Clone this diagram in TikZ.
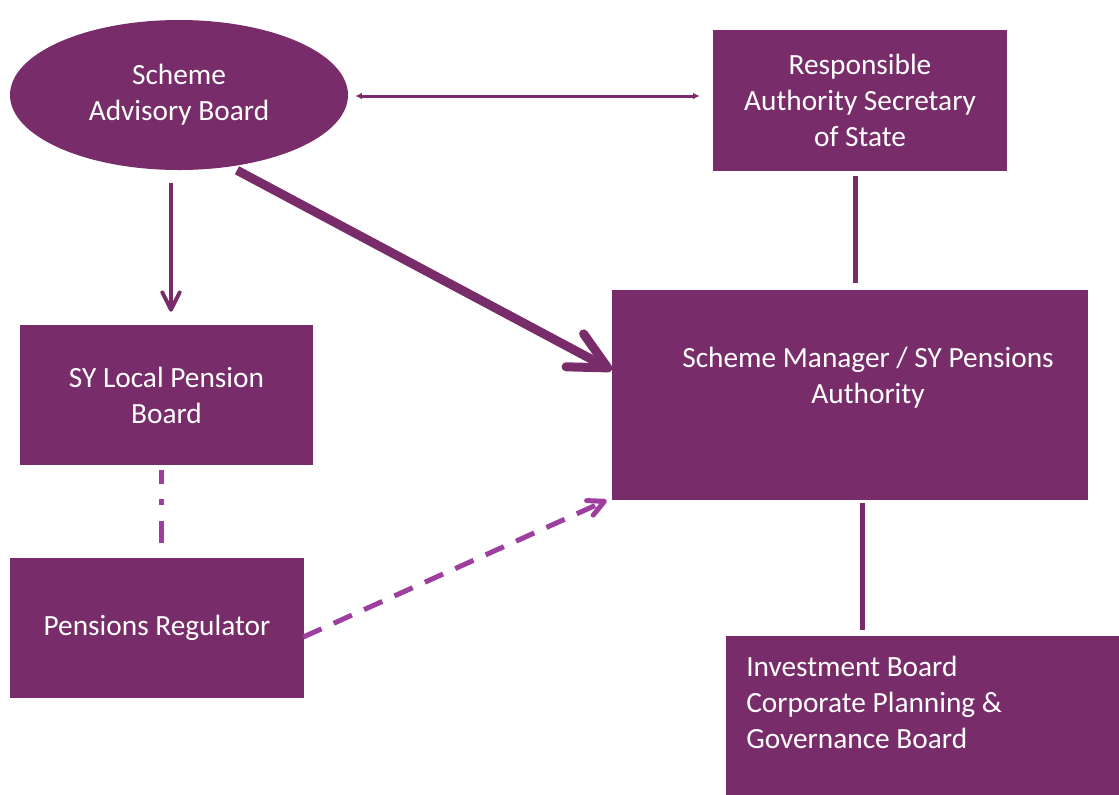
\documentclass[tikz,border=0pt]{standalone}
\usepackage{fontspec}
\setmainfont{Carlito}
\usetikzlibrary{shapes.geometric,arrows.meta,calc}

\definecolor{boardpurple}{RGB}{120,45,106}
\definecolor{linkpurple}{RGB}{158,62,158}

\tikzset{
	board/.style={rectangle, fill=boardpurple, text=white, text centered, align=center,
		inner sep=0pt, font=\fontsize{22}{27}\selectfont},
	boardtext/.style={text=white, inner sep=0pt, font=\fontsize{22}{27}\selectfont},
	link/.style={draw=boardpurple, line width=3.75pt},
	barb/.style={-{Straight Barb[length=#1, width=#1, round]}},
}

\begin{document}
\begin{tikzpicture}[x=0.75pt, y=-0.75pt]
		
		\useasboundingbox (0,0) rectangle (1119,794);
		\clip (0,0) rectangle (1119,794);
		
		%Boards
		\node (advisory) at (179,95) [board, ellipse, minimum width=253.5pt, minimum 
		height=112.5pt]{Scheme\\Advisory Board};
		
		\node (secretary) at (860,100.5) [board, minimum width=220.5pt, minimum 
		height=105.75pt]{Responsible\\Authority Secretary\\of State};
		
		\node (localboard) at (166.5,395) [board, minimum width=219.75pt, minimum 
		height=105pt]{SY Local Pension\\Board};
		
		\node (manager) at (850,395) [board, minimum width=357pt, minimum height=157.5pt]{};
		\node (managertext) at (868,378) [boardtext, align=center]{Scheme Manager / SY Pensions\\Authority};
		
		\node (regulator) at (157,628) [board, minimum width=220.5pt, minimum 
		height=105pt]{Pensions Regulator};
		
		\node (investment) at (726,636) [board, anchor=north west, minimum width=315pt, minimum 
		height=135pt]{};
		\node (investmenttext) at (746,702) [boardtext, anchor=west, align=left]{Investment Board\\Corporate Planning \&\\Governance Board};
		
		%Links
		\draw[link, line width=2.25pt, {Latex[length=5pt, width=5pt]}-{Latex[length=5pt, width=5pt]}] 
		($(advisory.east)+(7,1)$) to ($(advisory.east -| secretary.west)+(-13,1)$);
		
		\draw[link, line width=3pt, barb=13pt] ($(advisory.south)+(-8,13)$) to ($(localboard.north)+(4.5,-13)$);
		
		\draw[link, line width=6.75pt, barb=28pt] ($(advisory.south)+(58,0)$) to ($(manager.west)+(0,-25)$);
		
		\draw[link, draw=linkpurple, barb=12pt, dash pattern=on 15pt off 10pt] 
		($(regulator.east)+(-1,9)$) to ($(manager.south west)+(-5,0)$);
		
		\draw[link, draw=linkpurple, dash pattern=on 10.5pt off 11pt on 4.5pt off 12pt on 17pt off 20pt] 
		($(localboard.south)+(-5.5,5)$) to ($(regulator.north)+(4,-15)$);
		
		\draw[link] ($(secretary.south)+(-5,5)$) to ($(manager.north)+(5,-7)$);
		\draw[link] ($(manager.south)+(12,3)$) to ($(investment.north west)+(136,-6)$);
		
\end{tikzpicture}
\end{document}
